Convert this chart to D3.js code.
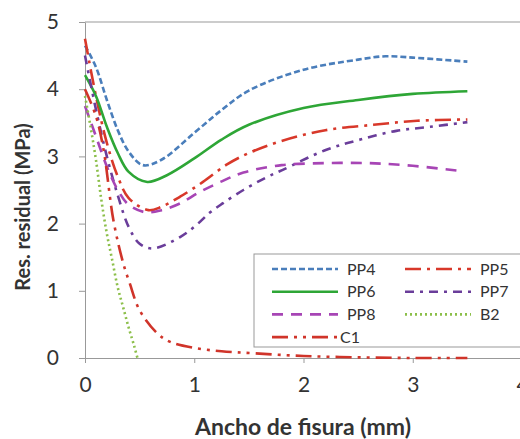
<!DOCTYPE html>
<html>
<head>
<meta charset="utf-8">
<title>Res. residual</title>
<script src="https://d3js.org/d3.v7.min.js"></script>
<style>
body { margin: 0; background: #fff; }
text { font-family: Lato, "Open Sans", sans-serif; fill: #333; }
.axis path, .axis line { stroke: #999; }
.grid { fill: none; stroke: #999; stroke-width: 1px; }
.line { fill: none; stroke-width: 2.6px; }
</style>
</head>
<body>
<script>
// values
var series = ["PP4", "PP5", "PP6", "PP7", "PP8", "B2", "C1"];

var pp4 = [[0,4.65],[0.1,4.33],[0.2,3.84],[0.3,3.39],[0.4,3.07],[0.53,2.87],[0.7,2.95],[1,3.35],[1.25,3.69],[1.5,3.98],[2,4.29],[2.5,4.44],[2.75,4.49],[3,4.47],[3.5,4.41]];
var pp5 = [[0,4.75],[0.1,3.9],[0.2,3.2],[0.3,2.7],[0.4,2.38],[0.58,2.2],[0.7,2.25],[0.87,2.4],[1.08,2.62],[1.3,2.88],[1.5,3.05],[1.78,3.22],[2.2,3.39],[2.64,3.47],[3.04,3.53],[3.5,3.55]];
var pp6 = [[0,4.21],[0.1,3.9],[0.2,3.44],[0.3,3.05],[0.4,2.77],[0.57,2.62],[0.75,2.72],[1,2.97],[1.25,3.25],[1.5,3.47],[2,3.72],[2.5,3.84],[3,3.93],[3.5,3.97]];
var pp7 = [[0,4.5],[0.1,3.7],[0.2,3.0],[0.3,2.42],[0.4,1.95],[0.5,1.7],[0.62,1.63],[0.87,1.8],[1.02,1.98],[1.14,2.16],[1.26,2.3],[1.45,2.5],[1.65,2.68],[1.81,2.8],[2.21,3.1],[2.52,3.25],[2.85,3.38],[3.16,3.44],[3.5,3.51]];
var pp8 = [[0,3.75],[0.1,3.3],[0.2,2.85],[0.3,2.5],[0.4,2.28],[0.55,2.17],[0.7,2.2],[0.87,2.3],[1.05,2.47],[1.24,2.62],[1.45,2.76],[1.8,2.87],[2.2,2.9],[2.6,2.9],[3,2.86],[3.45,2.78]];
var b2 = [[0,3.9],[0.05,3.45],[0.1,2.95],[0.15,2.35],[0.2,1.85],[0.25,1.45],[0.3,1.05],[0.35,0.75],[0.4,0.45],[0.45,0.18],[0.48,0]];
var c1 = [[0,4.0],[0.1,3.6],[0.17,3.1],[0.26,2.05],[0.35,1.41],[0.41,1.11],[0.5,0.71],[0.66,0.37],[0.78,0.24],[1,0.15],[1.25,0.1],[1.55,0.07],[2,0.03],[2.5,0.01],[3,0],[3.5,0]];

var xTicks = [0, 1, 2, 3, 4];
var yTicks = [0, 1, 2, 3, 4, 5];

var data = [pp4, pp5, pp6, pp7, pp8, b2, c1];
var colors = ["#4a7ebb", "#d8382a", "#2ea636", "#6a3d9a", "#a745b5", "#8cbf4a", "#d0342a"];
var dashes = ["6,3", "16,6,3,6", null, "9,6,3,6", "11,8", "2,3", "16,6,3,6,3,6"];

var width = 520, height = 439;

var svg = d3.select("body").append("svg")
    .attr("width", width)
    .attr("height", height);

var x = d3.scaleLinear().domain([0, 4]).range([85, 522]);
var y = d3.scaleLinear().domain([0, 5]).range([358, 22]);

// plot area border (top)
svg.append("line")
    .attr("class", "grid")
    .attr("x1", x(0)).attr("x2", x(4))
    .attr("y1", y(5)).attr("y2", y(5));

var xAxis = svg.append("g")
    .attr("class", "axis")
    .attr("transform", "translate(0," + y(0) + ")")
    .call(d3.axisBottom(x).tickValues(xTicks).tickFormat(d3.format("d"))
      .tickSize(5).tickPadding(14).tickSizeOuter(0));

var yAxis = svg.append("g")
    .attr("class", "axis")
    .attr("transform", "translate(" + x(0) + ",0)")
    .call(d3.axisLeft(y).tickValues(yTicks).tickFormat(d3.format("d"))
      .tickSize(6).tickPadding(20).tickSizeOuter(0));

svg.selectAll(".axis text")
    .style("font-size", "21px")
    .style("fill", "#333");

// lines
var line = d3.line()
    .x(function(d) { return x(d[0]); })
    .y(function(d) { return y(d[1]); })
    .curve(d3.curveCatmullRom.alpha(0.5));

svg.selectAll(".line")
    .data(data)
  .enter().append("path")
    .attr("class", "line")
    .attr("d", line)
    .style("stroke", function(d, i) { return colors[i]; })
    .style("stroke-dasharray", function(d, i) { return dashes[i]; });

// legend
var legend = svg.append("g");
legend.append("rect")
    .attr("x", 254).attr("y", 254)
    .attr("width", 280).attr("height", 93)
    .style("fill", "#fff")
    .style("stroke", "#999");

var order = [0, 1, 2, 3, 4, 5, 6];
var item = legend.selectAll(".item")
    .data(order)
  .enter().append("g")
    .attr("transform", function(d) {
      var col = d % 2, row = Math.floor(d / 2);
      return "translate(" + (272 + col * 133) + "," + (269 + row * 22.7) + ")";
    });

item.append("line")
    .attr("x1", 0).attr("x2", 66)
    .attr("y1", 0).attr("y2", 0)
    .style("stroke-width", 2.6)
    .style("stroke", function(d) { return colors[d]; })
    .style("stroke-dasharray", function(d) { return dashes[d]; });

item.append("text")
    .attr("x", function(d) { return d == 6 ? 68 : 75; })
    .attr("dy", "0.35em")
    .style("font-size", "16px")
    .text(function(d) { return series[d]; });

// axis titles
svg.append("text")
    .attr("x", 303).attr("y", 427)
    .attr("dy", "0.35em")
    .attr("text-anchor", "middle")
    .style("font-size", "23px")
    .style("font-weight", "bold")
    .text("Ancho de fisura (mm)");

svg.append("text")
    .attr("transform", "translate(23,207)rotate(-90)")
    .attr("dy", "0.35em")
    .attr("text-anchor", "middle")
    .style("font-size", "20px")
    .style("font-weight", "bold")
    .text("Res. residual (MPa)");
</script>
</body>
</html>
